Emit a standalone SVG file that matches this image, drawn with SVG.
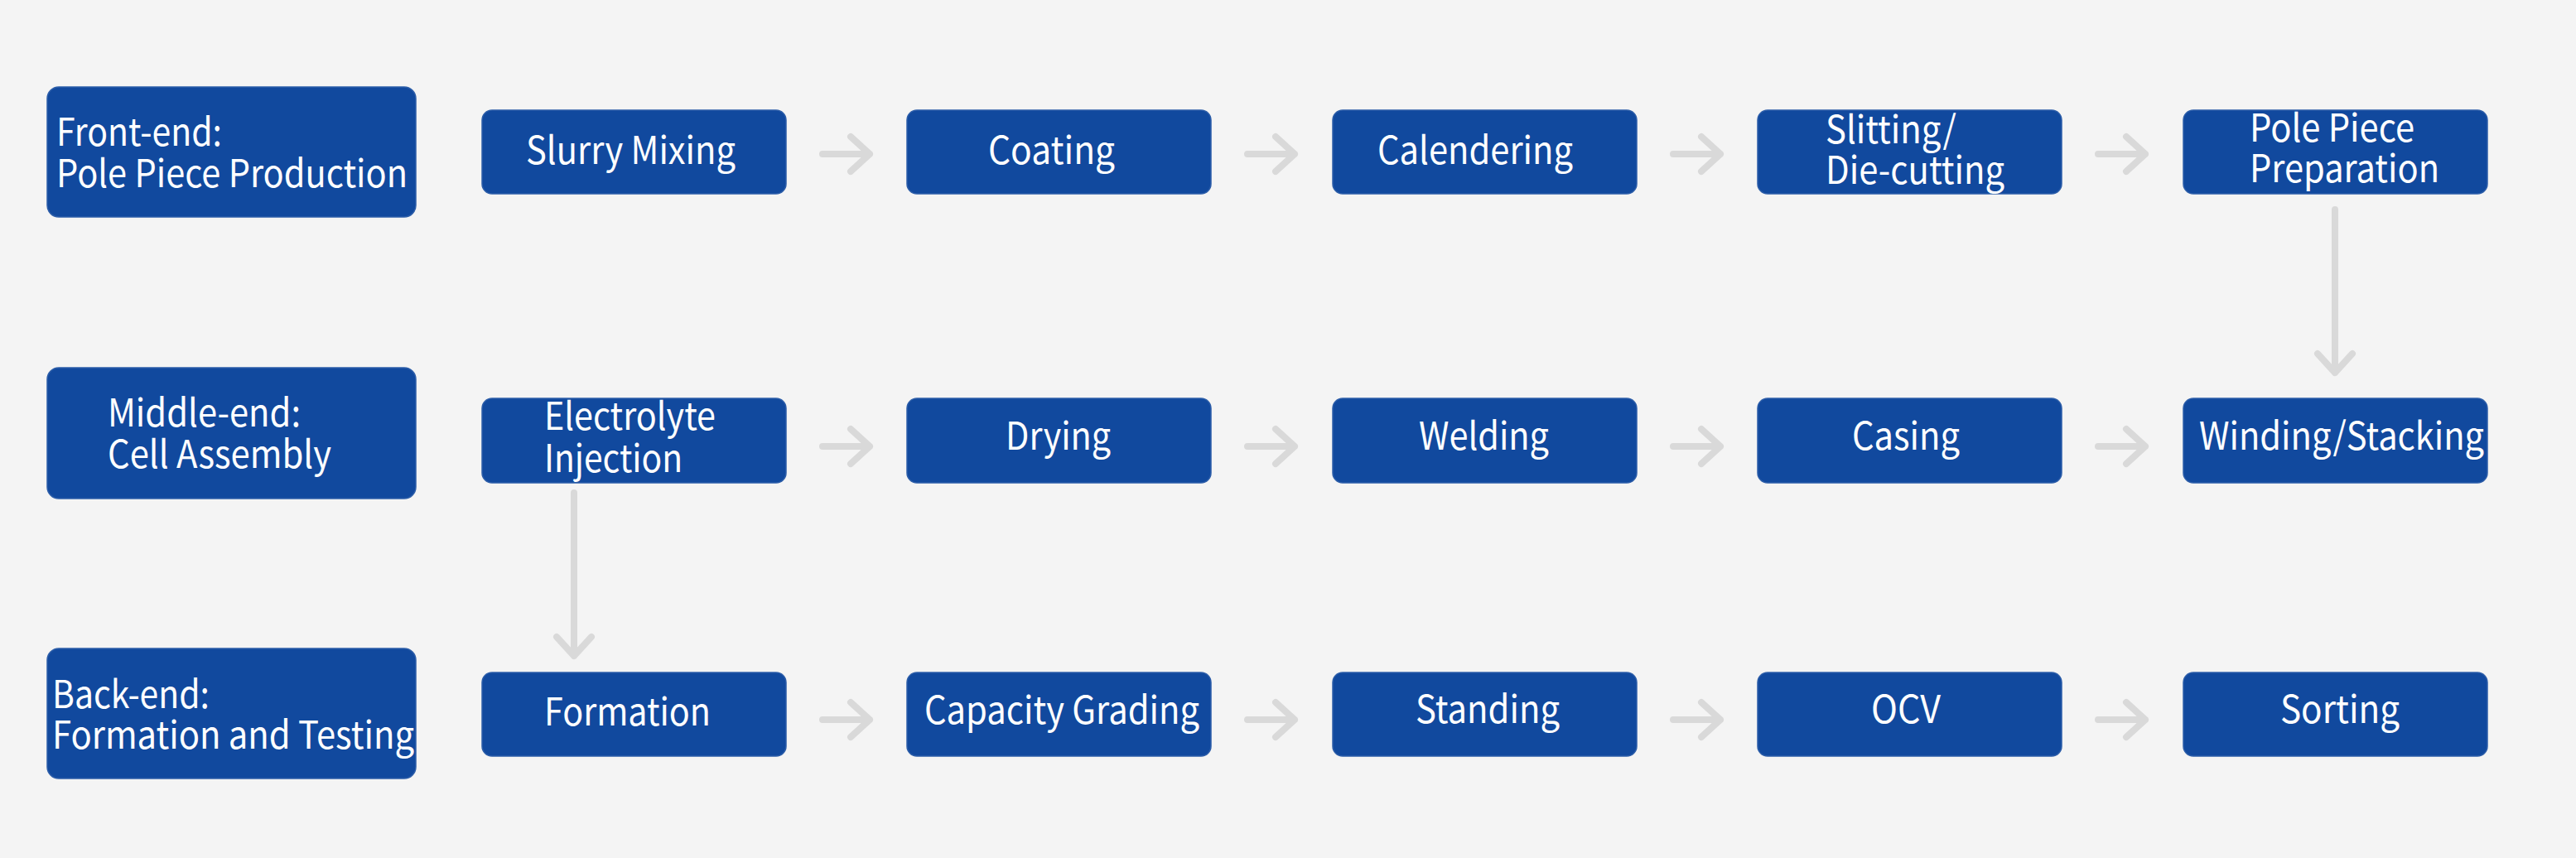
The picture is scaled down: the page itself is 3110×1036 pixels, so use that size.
<svg xmlns="http://www.w3.org/2000/svg" width="3110" height="1036" viewBox="0 0 3110 1036">
<style>
.box{fill:#11499e;stroke:#2d5ea9;stroke-width:1.5}
.t{font-family:"Noto Sans CJK SC","Source Sans Pro","Liberation Sans",sans-serif;font-size:46px;fill:#ffffff}
.arr{fill:none;stroke:#d9d9d9;stroke-width:8;stroke-linecap:round;stroke-linejoin:round}
</style>
<rect width="3110" height="1036" fill="#f4f4f4"/>
<g id="connectors">
<path class="arr" d="M993 186H1050M1027 165L1050 186L1027 207"/>
<path class="arr" d="M1506 186H1563M1540 165L1563 186L1540 207"/>
<path class="arr" d="M2020 186H2077M2054 165L2077 186L2054 207"/>
<path class="arr" d="M2533 186H2590M2567 165L2590 186L2567 207"/>
<path class="arr" d="M2819 253V450M2798 427L2819 450L2840 427"/>
<path class="arr" d="M993 539H1050M1027 518L1050 539L1027 560"/>
<path class="arr" d="M1506 539H1563M1540 518L1563 539L1540 560"/>
<path class="arr" d="M2020 539H2077M2054 518L2077 539L2054 560"/>
<path class="arr" d="M2533 539H2590M2567 518L2590 539L2567 560"/>
<path class="arr" d="M693 595V792M672 769L693 792L714 769"/>
<path class="arr" d="M993 869H1050M1027 848L1050 869L1027 890"/>
<path class="arr" d="M1506 869H1563M1540 848L1563 869L1540 890"/>
<path class="arr" d="M2020 869H2077M2054 848L2077 869L2054 890"/>
<path class="arr" d="M2533 869H2590M2567 848L2590 869L2567 890"/>
</g>
<g id="front-end"><rect class="box" x="57" y="105" width="445" height="157" rx="14"/><text class="t" x="68" y="176" textLength="200" lengthAdjust="spacingAndGlyphs">Front-end:</text><text class="t" x="68" y="226" textLength="424" lengthAdjust="spacingAndGlyphs">Pole Piece Production</text></g>
<g id="slurry-mixing"><rect class="box" x="582" y="133" width="367" height="101" rx="12"/><text class="t" x="635" y="198" textLength="253" lengthAdjust="spacingAndGlyphs">Slurry Mixing</text></g>
<g id="coating"><rect class="box" x="1095" y="133" width="367" height="101" rx="12"/><text class="t" x="1193" y="198" textLength="153" lengthAdjust="spacingAndGlyphs">Coating</text></g>
<g id="calendering"><rect class="box" x="1609" y="133" width="367" height="101" rx="12"/><text class="t" x="1663" y="198" textLength="236" lengthAdjust="spacingAndGlyphs">Calendering</text></g>
<g id="slitting"><rect class="box" x="2122" y="133" width="367" height="101" rx="12"/><text class="t" x="2204" y="173" textLength="158" lengthAdjust="spacingAndGlyphs">Slitting/</text><text class="t" x="2204" y="222" textLength="216" lengthAdjust="spacingAndGlyphs">Die-cutting</text></g>
<g id="pole-piece-preparation"><rect class="box" x="2636" y="133" width="367" height="101" rx="12"/><text class="t" x="2716" y="171" textLength="199" lengthAdjust="spacingAndGlyphs">Pole Piece</text><text class="t" x="2716" y="220" textLength="229" lengthAdjust="spacingAndGlyphs">Preparation</text></g>
<g id="middle-end"><rect class="box" x="57" y="444" width="445" height="158" rx="14"/><text class="t" x="130" y="515" textLength="233" lengthAdjust="spacingAndGlyphs">Middle-end:</text><text class="t" x="130" y="565" textLength="270" lengthAdjust="spacingAndGlyphs">Cell Assembly</text></g>
<g id="electrolyte-injection"><rect class="box" x="582" y="481" width="367" height="102" rx="12"/><text class="t" x="657" y="519" textLength="207" lengthAdjust="spacingAndGlyphs">Electrolyte</text><text class="t" x="657" y="570" textLength="167" lengthAdjust="spacingAndGlyphs">Injection</text></g>
<g id="drying"><rect class="box" x="1095" y="481" width="367" height="102" rx="12"/><text class="t" x="1214" y="543" textLength="127" lengthAdjust="spacingAndGlyphs">Drying</text></g>
<g id="welding"><rect class="box" x="1609" y="481" width="367" height="102" rx="12"/><text class="t" x="1713" y="543" textLength="157" lengthAdjust="spacingAndGlyphs">Welding</text></g>
<g id="casing"><rect class="box" x="2122" y="481" width="367" height="102" rx="12"/><text class="t" x="2236" y="543" textLength="130" lengthAdjust="spacingAndGlyphs">Casing</text></g>
<g id="winding-stacking"><rect class="box" x="2636" y="481" width="367" height="102" rx="12"/><text class="t" x="2655" y="543" textLength="344" lengthAdjust="spacingAndGlyphs">Winding/Stacking</text></g>
<g id="back-end"><rect class="box" x="57" y="783" width="445" height="157" rx="14"/><text class="t" x="63" y="855" textLength="190" lengthAdjust="spacingAndGlyphs">Back-end:</text><text class="t" x="63" y="904" textLength="437" lengthAdjust="spacingAndGlyphs">Formation and Testing</text></g>
<g id="formation"><rect class="box" x="582" y="812" width="367" height="101" rx="12"/><text class="t" x="657" y="876" textLength="201" lengthAdjust="spacingAndGlyphs">Formation</text></g>
<g id="capacity-grading"><rect class="box" x="1095" y="812" width="367" height="101" rx="12"/><text class="t" x="1116" y="874" textLength="332" lengthAdjust="spacingAndGlyphs">Capacity Grading</text></g>
<g id="standing"><rect class="box" x="1609" y="812" width="367" height="101" rx="12"/><text class="t" x="1709" y="873" textLength="174" lengthAdjust="spacingAndGlyphs">Standing</text></g>
<g id="ocv"><rect class="box" x="2122" y="812" width="367" height="101" rx="12"/><text class="t" x="2259" y="873" textLength="84" lengthAdjust="spacingAndGlyphs">OCV</text></g>
<g id="sorting"><rect class="box" x="2636" y="812" width="367" height="101" rx="12"/><text class="t" x="2753" y="873" textLength="144" lengthAdjust="spacingAndGlyphs">Sorting</text></g>
</svg>
